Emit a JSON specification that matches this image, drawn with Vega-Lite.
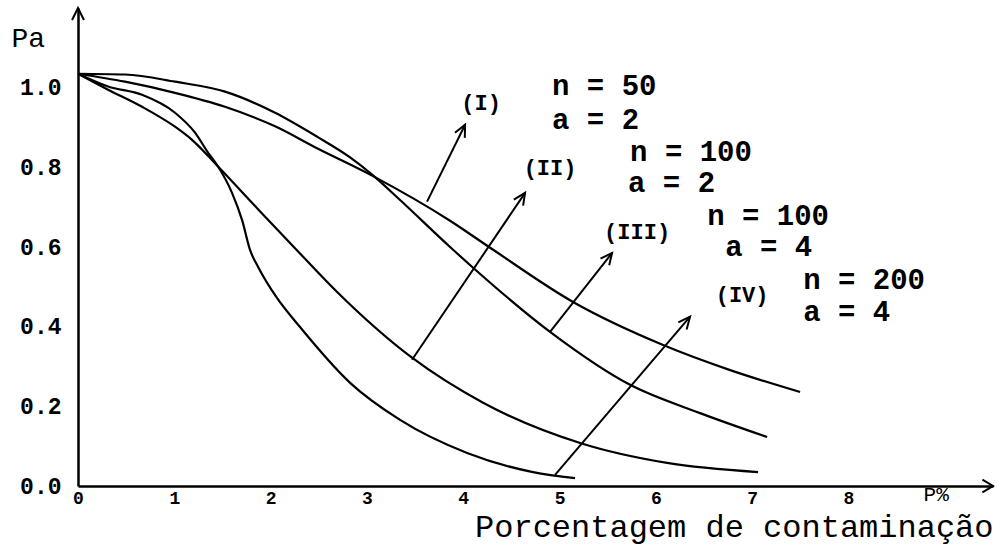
{
  "$schema": "https://vega.github.io/schema/vega-lite/v6.json",
  "width": 915,
  "height": 478,
  "autosize": {"type": "none"},
  "padding": {"left": 78, "top": 8, "right": 5, "bottom": 61},
  "background": "white",
  "config": {"view": {"stroke": null}},
  "datasets": {
    "curves": [
      {"curve": "I", "x": 0, "y": 1.035}, {"curve": "I", "x": 0.488, "y": 1.015}, {"curve": "I", "x": 1.007, "y": 0.987}, {"curve": "I", "x": 1.526, "y": 0.952}, {"curve": "I", "x": 2.046, "y": 0.903}, {"curve": "I", "x": 2.482, "y": 0.848}, {"curve": "I", "x": 3.063, "y": 0.778}, {"curve": "I", "x": 3.863, "y": 0.666}, {"curve": "I", "x": 4.268, "y": 0.6}, {"curve": "I", "x": 5.14, "y": 0.462}, {"curve": "I", "x": 6.075, "y": 0.354}, {"curve": "I", "x": 6.771, "y": 0.291}, {"curve": "I", "x": 7.497, "y": 0.236},
      {"curve": "III", "x": 0, "y": 1.035}, {"curve": "III", "x": 0.488, "y": 1.033}, {"curve": "III", "x": 1.007, "y": 1.015}, {"curve": "III", "x": 1.526, "y": 0.99}, {"curve": "III", "x": 2.046, "y": 0.937}, {"curve": "III", "x": 2.482, "y": 0.877}, {"curve": "III", "x": 2.825, "y": 0.825}, {"curve": "III", "x": 3.063, "y": 0.78}, {"curve": "III", "x": 3.344, "y": 0.718}, {"curve": "III", "x": 3.863, "y": 0.6}, {"curve": "III", "x": 4.102, "y": 0.548}, {"curve": "III", "x": 4.901, "y": 0.387}, {"curve": "III", "x": 5.732, "y": 0.254}, {"curve": "III", "x": 6.459, "y": 0.183}, {"curve": "III", "x": 7.155, "y": 0.123},
      {"curve": "II", "x": 0, "y": 1.035}, {"curve": "II", "x": 0.312, "y": 0.995}, {"curve": "II", "x": 0.665, "y": 0.952}, {"curve": "II", "x": 1.007, "y": 0.902}, {"curve": "II", "x": 1.184, "y": 0.869}, {"curve": "II", "x": 1.454, "y": 0.802}, {"curve": "II", "x": 1.869, "y": 0.695}, {"curve": "II", "x": 2.253, "y": 0.597}, {"curve": "II", "x": 2.69, "y": 0.487}, {"curve": "II", "x": 3.468, "y": 0.322}, {"curve": "II", "x": 4.206, "y": 0.209}, {"curve": "II", "x": 5.213, "y": 0.108}, {"curve": "II", "x": 6.116, "y": 0.058}, {"curve": "II", "x": 7.061, "y": 0.035},
      {"curve": "IV", "x": 0, "y": 1.035}, {"curve": "IV", "x": 0.312, "y": 1.003}, {"curve": "IV", "x": 0.665, "y": 0.982}, {"curve": "IV", "x": 1.007, "y": 0.937}, {"curve": "IV", "x": 1.215, "y": 0.887}, {"curve": "IV", "x": 1.35, "y": 0.837}, {"curve": "IV", "x": 1.454, "y": 0.802}, {"curve": "IV", "x": 1.599, "y": 0.736}, {"curve": "IV", "x": 1.703, "y": 0.668}, {"curve": "IV", "x": 1.79, "y": 0.59}, {"curve": "IV", "x": 1.87, "y": 0.55}, {"curve": "IV", "x": 2.066, "y": 0.472}, {"curve": "IV", "x": 2.305, "y": 0.399}, {"curve": "IV", "x": 2.825, "y": 0.259}, {"curve": "IV", "x": 3.344, "y": 0.166}, {"curve": "IV", "x": 4.04, "y": 0.083}, {"curve": "IV", "x": 4.725, "y": 0.035}, {"curve": "IV", "x": 5.161, "y": 0.02}
    ],
    "arrows": [
      {"seg": "I", "ord": 0, "x": 3.624, "y": 0.714}, {"seg": "I", "ord": 1, "x": 4.019, "y": 0.907},
      {"seg": "I-h", "ord": 0, "x": 3.914, "y": 0.887}, {"seg": "I-h", "ord": 1, "x": 4.019, "y": 0.907}, {"seg": "I-h", "ord": 2, "x": 4.016, "y": 0.874},
      {"seg": "II", "ord": 0, "x": 3.468, "y": 0.317}, {"seg": "II", "ord": 1, "x": 4.642, "y": 0.736},
      {"seg": "II-h", "ord": 0, "x": 4.525, "y": 0.719}, {"seg": "II-h", "ord": 1, "x": 4.642, "y": 0.736}, {"seg": "II-h", "ord": 2, "x": 4.621, "y": 0.704},
      {"seg": "III", "ord": 0, "x": 4.901, "y": 0.387}, {"seg": "III", "ord": 1, "x": 5.545, "y": 0.585},
      {"seg": "III-h", "ord": 0, "x": 5.425, "y": 0.571}, {"seg": "III-h", "ord": 1, "x": 5.545, "y": 0.585}, {"seg": "III-h", "ord": 2, "x": 5.515, "y": 0.554},
      {"seg": "IV", "ord": 0, "x": 4.953, "y": 0.028}, {"seg": "IV", "ord": 1, "x": 6.355, "y": 0.425},
      {"seg": "IV-h", "ord": 0, "x": 6.233, "y": 0.411}, {"seg": "IV-h", "ord": 1, "x": 6.355, "y": 0.425}, {"seg": "IV-h", "ord": 2, "x": 6.319, "y": 0.393},
      {"seg": "Y-h", "ord": 0, "x": -0.062, "y": 1.17}, {"seg": "Y-h", "ord": 1, "x": 0, "y": 1.2}, {"seg": "Y-h", "ord": 2, "x": 0.062, "y": 1.17},
      {"seg": "X-h", "ord": 0, "x": 9.39, "y": 0.016}, {"seg": "X-h", "ord": 1, "x": 9.5, "y": 0}, {"seg": "X-h", "ord": 2, "x": 9.39, "y": -0.016}
    ],
    "params": [
      {"x": 4.922, "y": 1.003, "text": "n = 50"},
      {"x": 4.922, "y": 0.92, "text": "a = 2"},
      {"x": 5.732, "y": 0.839, "text": "n = 100"},
      {"x": 5.711, "y": 0.761, "text": "a = 2"},
      {"x": 6.532, "y": 0.678, "text": "n = 100"},
      {"x": 6.719, "y": 0.6, "text": "a = 4"},
      {"x": 7.529, "y": 0.518, "text": "n = 200"},
      {"x": 7.529, "y": 0.437, "text": "a = 4"}
    ],
    "labels": [
      {"x": 4.185, "y": 0.962, "text": "(I)"},
      {"x": 4.901, "y": 0.799, "text": "(II)"},
      {"x": 5.805, "y": 0.638, "text": "(III)"},
      {"x": 6.895, "y": 0.48, "text": "(IV)"}
    ],
    "unit": [
      {"x": 8.91, "y": -0.022, "text": "P%"}
    ]
  },
  "layer": [
    {
      "data": {"name": "curves"},
      "mark": {"type": "line", "color": "black", "strokeWidth": 2.2, "interpolate": "monotone"},
      "encoding": {
        "x": {
          "field": "x", "type": "quantitative",
          "scale": {"domain": [0, 9.5], "nice": false, "zero": false},
          "axis": {
            "values": [0, 1, 2, 3, 4, 5, 6, 7, 8],
            "format": "d",
            "ticks": false, "grid": false,
            "domainColor": "black", "domainWidth": 2.5,
            "labelFont": "Liberation Mono", "labelFontWeight": "bold", "labelFontSize": 18,
            "labelColor": "black", "labelPadding": 3, "labelFlush": false,
            "title": "Porcentagem de contaminação",
            "titleFont": "Liberation Mono", "titleFontWeight": "normal", "titleFontSize": 32,
            "titleColor": "black", "titleAnchor": "end", "titleAlign": "right",
            "titleBaseline": "alphabetic", "titleY": 50
          }
        },
        "y": {
          "field": "y", "type": "quantitative",
          "scale": {"domain": [0, 1.2], "nice": false, "zero": false},
          "axis": {
            "values": [0, 0.2, 0.4, 0.6, 0.8, 1.0],
            "format": ".1f",
            "ticks": false, "grid": false,
            "domainColor": "black", "domainWidth": 2.5,
            "labelFont": "Liberation Mono", "labelFontWeight": "bold", "labelFontSize": 23,
            "labelColor": "black", "labelPadding": 17, "labelFlush": false,
            "title": "Pa", "titleAngle": 0, "titleAlign": "left", "titleBaseline": "middle",
            "titleX": -67, "titleY": 30,
            "titleFont": "Liberation Mono", "titleFontWeight": "normal", "titleFontSize": 28,
            "titleColor": "black"
          }
        },
        "detail": {"field": "curve"}
      }
    },
    {
      "data": {"name": "arrows"},
      "mark": {"type": "line", "color": "black", "strokeWidth": 2},
      "encoding": {
        "x": {"field": "x", "type": "quantitative"},
        "y": {"field": "y", "type": "quantitative"},
        "detail": {"field": "seg"},
        "order": {"field": "ord"}
      }
    },
    {
      "data": {"name": "params"},
      "mark": {"type": "text", "align": "left", "baseline": "middle", "font": "Liberation Mono", "fontWeight": "bold", "fontSize": 29, "color": "black"},
      "encoding": {
        "x": {"field": "x", "type": "quantitative"},
        "y": {"field": "y", "type": "quantitative"},
        "text": {"field": "text"}
      }
    },
    {
      "data": {"name": "labels"},
      "mark": {"type": "text", "align": "center", "baseline": "middle", "font": "Liberation Mono", "fontWeight": "bold", "fontSize": 22, "color": "black"},
      "encoding": {
        "x": {"field": "x", "type": "quantitative"},
        "y": {"field": "y", "type": "quantitative"},
        "text": {"field": "text"}
      }
    },
    {
      "data": {"name": "unit"},
      "mark": {"type": "text", "align": "center", "baseline": "middle", "font": "Liberation Mono", "fontWeight": "normal", "fontSize": 21, "color": "black"},
      "encoding": {
        "x": {"field": "x", "type": "quantitative"},
        "y": {"field": "y", "type": "quantitative"},
        "text": {"field": "text"}
      }
    }
  ]
}
